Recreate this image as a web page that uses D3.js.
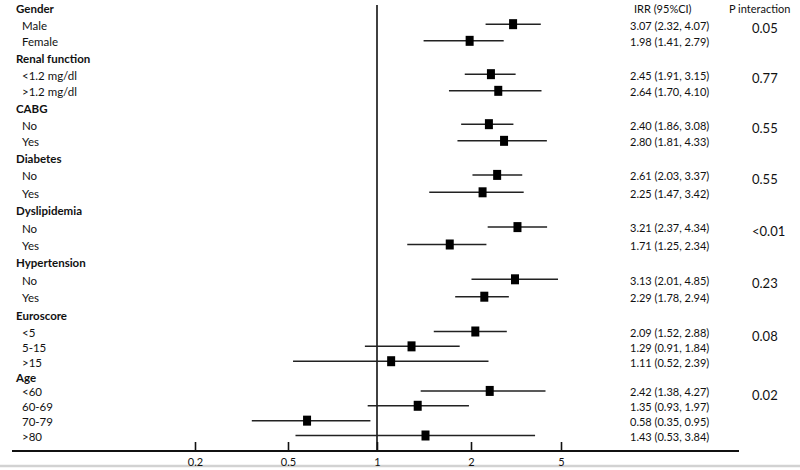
<!DOCTYPE html>
<html>
<head>
<meta charset="utf-8">
<script src="https://cdn.jsdelivr.net/npm/d3@7/dist/d3.min.js"></script>
<style>
  html, body { margin: 0; padding: 0; background: #fff; }
  svg { display: block; font-family: "Lato", "Open Sans", sans-serif; }
</style>
</head>
<body>
<svg id="chart" width="800" height="470"></svg>
<script>
// ---- data ----
const groups = ["Gender", "Renal function", "CABG", "Diabetes", "Dyslipidemia", "Hypertension", "Euroscore", "Age"];
const subgroups = [
  ["Male", "Female"],
  ["<1.2 mg/dl", ">1.2 mg/dl"],
  ["No", "Yes"],
  ["No", "Yes"],
  ["No", "Yes"],
  ["No", "Yes"],
  ["<5", "5-15", ">15"],
  ["<60", "60-69", "70-79", ">80"]
];
const irr    = [3.07, 1.98, 2.45, 2.64, 2.40, 2.80, 2.61, 2.25, 3.21, 1.71, 3.13, 2.29, 2.09, 1.29, 1.11, 2.42, 1.35, 0.58, 1.43];
const ciLow  = [2.32, 1.41, 1.91, 1.70, 1.86, 1.81, 2.03, 1.47, 2.37, 1.25, 2.01, 1.78, 1.52, 0.91, 0.52, 1.38, 0.93, 0.35, 0.53];
const ciHigh = [4.07, 2.79, 3.15, 4.10, 3.08, 4.33, 3.37, 3.42, 4.34, 2.34, 4.85, 2.94, 2.88, 1.84, 2.39, 4.27, 1.97, 0.95, 3.84];
const pInteraction = ["0.05", "0.77", "0.55", "0.55", "<0.01", "0.23", "0.08", "0.02"];
const tickValues = [0.2, 0.5, 1, 2, 5];
const headerIRR = "IRR (95%CI)";
const headerP = "P interaction";

// ---- build rows ----
const rows = [];
let k = 0;
groups.forEach((g, gi) => {
  rows.push({ type: "header", label: g, group: gi });
  subgroups[gi].forEach((s, si) => {
    rows.push({ type: "item", label: s, group: gi, first: si === 0,
      est: irr[k], lo: ciLow[k], hi: ciHigh[k] });
    k++;
  });
});
rows.forEach((r, i) => r.index = i);

const fmt = d3.format(".2f");

// ---- scales ----
const x = d3.scaleLog().domain(tickValues).range([195, 288, 377, 471, 561]);
const y = d3.scaleLinear().domain([0, 9, 19, 26]).range([9, 159, 333, 437]);

const svg = d3.select("#chart");
const ink = "#111";

// bottom gray border line
svg.append("line").attr("x1", 0).attr("x2", 800).attr("y1", 466).attr("y2", 466)
  .attr("stroke", "#d2d2d2").attr("stroke-width", 2.5);

// axis
const axisY = 451;
const axis = d3.axisTop(x).tickValues(tickValues).tickFormat(d3.format("")).tickSize(9).tickSizeOuter(0);
const gAxis = svg.append("g").attr("transform", `translate(0,${axisY})`).call(axis);
gAxis.select(".domain").remove();
gAxis.selectAll(".tick line").attr("stroke", ink).attr("stroke-width", 1.6);
gAxis.selectAll(".tick text").remove();
gAxis.selectAll(".tick").append("text")
  .attr("y", 11).attr("dy", "0.35em").attr("text-anchor", "middle")
  .attr("fill", ink).attr("font-size", 11).attr("font-family", "Lato, sans-serif")
  .text(d => d);
svg.append("line").attr("x1", 12).attr("x2", 739).attr("y1", axisY).attr("y2", axisY)
  .attr("stroke", ink).attr("stroke-width", 2);

// reference line at 1
svg.append("line").attr("x1", x(1)).attr("x2", x(1)).attr("y1", 5).attr("y2", axisY)
  .attr("stroke", ink).attr("stroke-width", 1.6);

// left labels
svg.append("g").selectAll("text").data(rows).join("text")
  .attr("x", d => d.type === "header" ? 16 : 22)
  .attr("y", d => y(d.index))
  .attr("dy", "0.35em")
  .attr("font-size", 11.5)
  .attr("font-weight", d => d.type === "header" ? "bold" : "normal")
  .attr("fill", ink)
  .text(d => d.label);

const items = rows.filter(d => d.type === "item");

// CI lines
svg.append("g").selectAll("line").data(items).join("line")
  .attr("x1", d => x(d.lo)).attr("x2", d => x(d.hi))
  .attr("y1", d => y(d.index) - 1.5).attr("y2", d => y(d.index) - 1.5)
  .attr("stroke", "#222").attr("stroke-width", 1.5);

// markers
svg.append("g").selectAll("rect").data(items).join("rect")
  .attr("x", d => x(d.est) - 4).attr("y", d => y(d.index) - 1.5 - 5)
  .attr("width", 8).attr("height", 10).attr("fill", "#000");

// right headers
svg.append("g").selectAll("text").data([headerIRR, headerP]).join("text")
  .attr("x", (d, i) => i === 0 ? 634 : 729).attr("y", y(0))
  .attr("dy", "0.35em").attr("font-size", 11).attr("fill", ink).text(d => d);

// IRR text
svg.append("g").selectAll("text").data(items).join("text")
  .attr("x", 630).attr("y", d => y(d.index))
  .attr("dy", "0.35em").attr("font-size", 11).attr("fill", ink)
  .text(d => `${fmt(d.est)} (${fmt(d.lo)}, ${fmt(d.hi)})`);

// P interaction
svg.append("g").selectAll("text").data(items.filter(d => d.first)).join("text")
  .attr("x", 752).attr("y", d => y(d.index) + 3)
  .attr("dy", "0.35em").attr("font-size", 13).attr("fill", ink)
  .text(d => pInteraction[d.group]);
</script>
</body>
</html>
